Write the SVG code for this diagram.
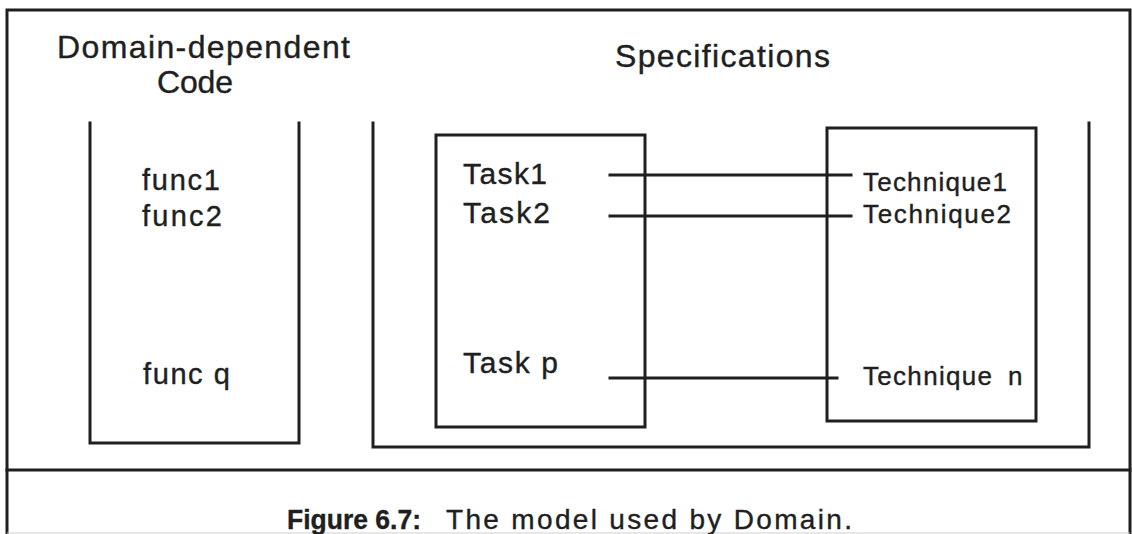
<svg xmlns="http://www.w3.org/2000/svg" width="1132" height="534" viewBox="0 0 1132 534">
<style>
.ln{fill:none;stroke:#1f1f1f;stroke-width:3;stroke-linecap:square}
.t{font-family:"Liberation Sans",Arial,sans-serif;fill:#1f1f1f;stroke:#1f1f1f;stroke-width:0.4}
.h{font-size:32px}
.f{font-size:29px}
.k{font-size:30px}
.q{font-size:26px}
.c{font-size:28px}
</style>
<rect width="1132" height="534" fill="#ffffff"/>
<g id="frame">
<path class="ln" d="M7,534 V10 H1130 V534"/>
<line class="ln" x1="7" y1="470" x2="1130" y2="470"/>
<line x1="7" y1="533" x2="1130" y2="533" stroke="#cfcfcf" stroke-width="1"/>
</g>
<g id="domain-code">
<text class="t h" x="57" y="58" textLength="293" lengthAdjust="spacing">Domain-dependent</text>
<text class="t h" x="157" y="93" textLength="76" lengthAdjust="spacing">Code</text>
<path class="ln" d="M90,123 V443 H299 V123"/>
<text class="t f" x="142" y="190" textLength="78" lengthAdjust="spacing">func1</text>
<text class="t f" x="142" y="226" textLength="80" lengthAdjust="spacing">func2</text>
<text class="t f" x="143" y="384" textLength="87" lengthAdjust="spacing">func q</text>
</g>
<g id="specifications">
<text class="t h" x="615" y="67" textLength="215" lengthAdjust="spacing">Specifications</text>
<path class="ln" d="M373,123 V447 H1089 V123"/>
</g>
<g id="tasks">
<rect class="ln" x="436" y="135" width="209" height="292"/>
<text class="t k" x="463" y="184" textLength="84" lengthAdjust="spacing">Task1</text>
<text class="t k" x="463" y="223" textLength="87" lengthAdjust="spacing">Task2</text>
<text class="t k" x="463" y="373" textLength="95" lengthAdjust="spacing">Task p</text>
</g>
<g id="techniques">
<rect class="ln" x="827" y="128" width="209" height="293"/>
<text class="t q" x="863" y="191" textLength="144" lengthAdjust="spacing">Technique1</text>
<text class="t q" x="863" y="223" textLength="148" lengthAdjust="spacing">Technique2</text>
<text class="t q" x="863" y="385"><tspan textLength="129" lengthAdjust="spacing">Technique</tspan><tspan x="1008">n</tspan></text>
</g>
<g id="connectors">
<line class="ln" x1="610" y1="175" x2="851" y2="175"/>
<line class="ln" x1="610" y1="216" x2="851" y2="216"/>
<line class="ln" x1="610" y1="378" x2="837" y2="378"/>
</g>
<g id="caption">
<text class="t c" x="287" y="529" font-weight="bold" textLength="134" lengthAdjust="spacingAndGlyphs">Figure 6.7:</text>
<text class="t c" x="446" y="529" textLength="406" lengthAdjust="spacing">The model used by Domain.</text>
</g>
</svg>
